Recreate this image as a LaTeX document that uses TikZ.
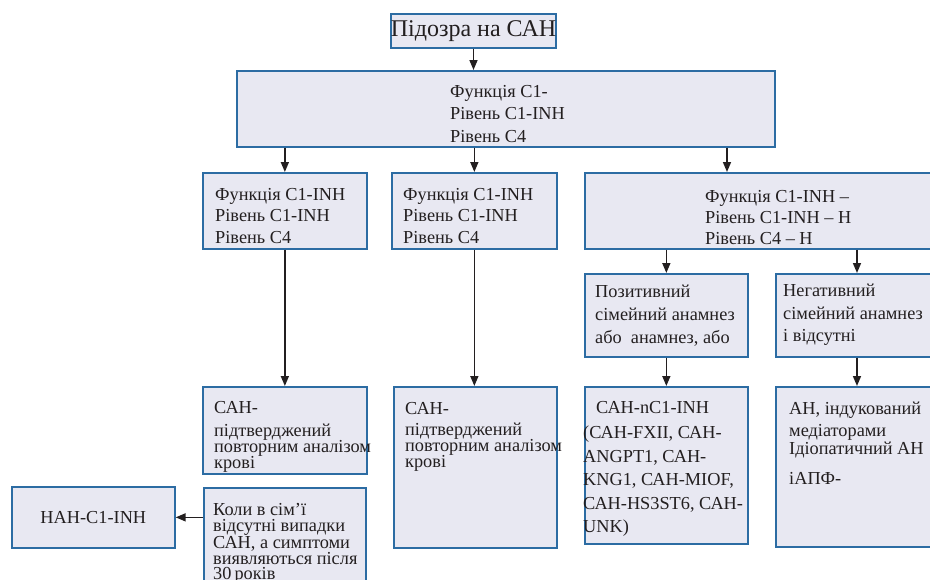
\documentclass[tikz,border=0pt]{standalone}
\usepackage{fontspec}
\setmainfont{Liberation Serif}
\usetikzlibrary{arrows.meta}
\definecolor{boxline}{RGB}{44,108,163}
\definecolor{boxfill}{RGB}{232,232,242}
\definecolor{ink}{RGB}{35,31,32}
\tikzset{
  box/.style={draw=boxline, fill=boxfill, line width=1.7pt, anchor=north west, inner sep=0pt, text=ink},
  txt/.style={anchor=north west, inner sep=0pt, align=left, text=ink, font=\fontsize{18.3}{#1}\selectfont},
  txt/.default=22.5,
  arr/.style={-{Triangle[length=10pt,width=8pt]}, line width=1.6pt, draw=ink},
}
\begin{document}
\begin{tikzpicture}[x=1pt,y=-1pt]
\useasboundingbox (0,0) rectangle (930,579);
\clip (0,0) rectangle (930,579);
% boxes
\node[box, minimum width=165pt, minimum height=34pt, font=\fontsize{24}{26}\selectfont] (susp) at (390,13) {Підозра на САН};
\node[box, minimum width=538pt, minimum height=76pt] (tests) at (236,70) {};
\node[box, minimum width=164pt, minimum height=76pt] (low1) at (202,172) {};
\node[box, minimum width=165pt, minimum height=76pt] (low2) at (391,172) {};
\node[box, minimum width=380pt, minimum height=76pt] (norm) at (584,172) {};
\node[box, minimum width=163pt, minimum height=83pt] (posfam) at (584,273) {};
\node[box, minimum width=180pt, minimum height=83pt] (negfam) at (775,273) {};
\node[box, minimum width=164pt, minimum height=87pt] (hae1) at (202,386) {};
\node[box, minimum width=163pt, minimum height=161pt] (hae2) at (393,386) {};
\node[box, minimum width=163pt, minimum height=157pt] (haen) at (584,386) {};
\node[box, minimum width=180pt, minimum height=160pt] (other) at (775,386) {};
\node[box, minimum width=162pt, minimum height=110pt] (late) at (203,487) {};
\node[box, minimum width=163pt, minimum height=61pt, font=\fontsize{18.3}{20}\selectfont] (acq) at (11,486) {НАН-С1-INH};
% texts
\node[txt] at (450,85) {Функція С1-\\ Рівень С1-INH\\ Рівень С4};
\node[txt=21.5] at (215,188) {Функція С1-INH\\ Рівень С1-INH\\ Рівень С4};
\node[txt=21.5] at (403,188) {Функція С1-INH\\ Рівень С1-INH\\ Рівень С4};
\node[txt=21] at (705,190) {Функція С1-INH –\\ Рівень С1-INH – Н\\ Рівень С4 – Н};
\node[txt=23] at (595,285) {Позитивний\\ сімейний анамнез\\ або~ анамнез, або};
\node[txt=22.5] at (783,284) {Негативний\\ сімейний анамнез\\ і відсутні};
\node[txt=23] at (214,401) {САН-\\ підтверджений\\[-7pt] повторним аналізом\\[-7pt] крові};
\node[txt=21] at (405,402) {САН-\\ підтверджений\\[-5pt] повторним аналізом\\[-5pt] крові};
\node[txt=23.5] at (583,401) {\hspace*{13pt}САН-nC1-INH\\[2pt] (САН-FXII, САН-\\ ANGPT1, САН-\\ KNG1, САН-MIOF,\\ САН-HS3ST6, САН-\\ UNK)};
\node[txt=22] at (789,402) {АН, індукований\\ медіаторами\\[-4pt] Ідіопатичний АН\\[8pt] іАПФ-};
\node[txt=15.8] at (213,503) {Коли в сім’ї\\ відсутні випадки\\ САН, а симптоми\\ виявляються після\\ 30\,років};
% arrows
\draw[arr] (susp) -- (susp |- tests.north);
\draw[arr] (low1.north |- tests.south) -- (low1.north);
\draw[arr] (low2.north |- tests.south) -- (low2.north);
\draw[arr] ([xshift=143pt]norm.north west |- tests.south) -- ([xshift=143pt]norm.north west);
\draw[arr] (posfam.north |- norm.south) -- (posfam.north);
\draw[arr] ([xshift=82pt]negfam.north west |- norm.south) -- ([xshift=82pt]negfam.north west);
\draw[arr] (low1) -- (low1 |- hae1.north);
\draw[arr] (low2) -- (low2 |- hae2.north);
\draw[arr] (posfam) -- (posfam |- haen.north);
\draw[arr] ([xshift=82pt]negfam.south west) -- ([xshift=82pt]other.north west);
\draw[arr] (late.west |- acq.east) -- (acq.east);
\end{tikzpicture}
\end{document}
